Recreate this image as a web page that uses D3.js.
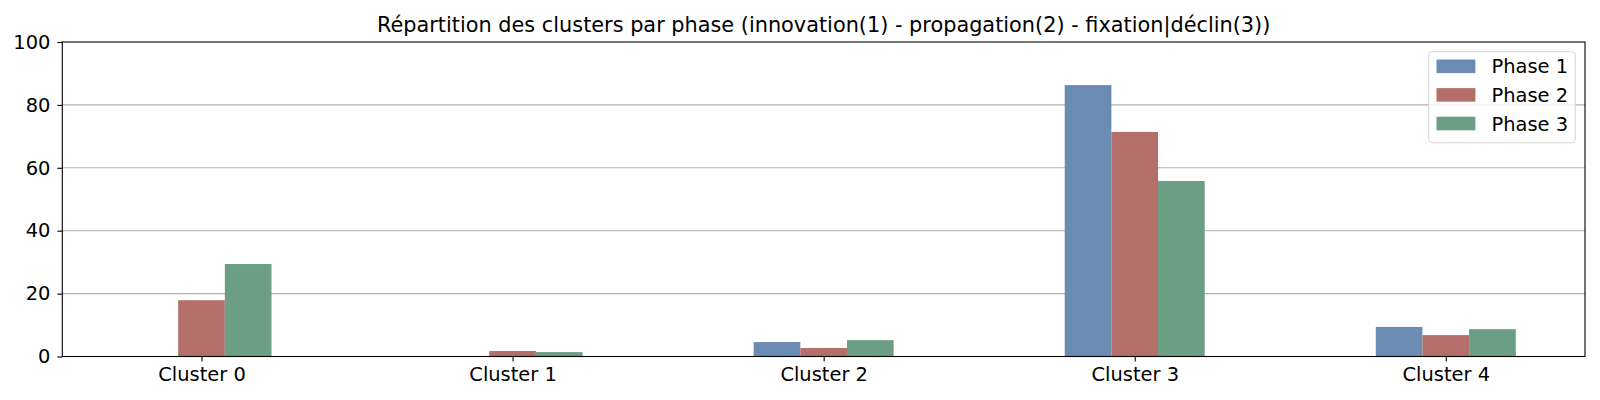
<!DOCTYPE html>
<html>
<head>
<meta charset="utf-8">
<script src="https://cdn.jsdelivr.net/npm/d3@7"></script>
<style>
  html, body { margin: 0; padding: 0; background: #fff; }
  svg { display: block; font-family: "DejaVu Sans", sans-serif; }
</style>
</head>
<body>
<svg id="chart" width="1600" height="400"></svg>
<script>
const categories = ["Cluster 0", "Cluster 1", "Cluster 2", "Cluster 3", "Cluster 4"];
const seriesNames = ["Phase 1", "Phase 2", "Phase 3"];
const phase1 = [0, 0, 4.6, 86.3, 9.4];
const phase2 = [17.9, 1.75, 2.7, 71.4, 6.8];
const phase3 = [29.4, 1.4, 5.2, 55.8, 8.7];
const yTicks = [0, 20, 40, 60, 80, 100];
const titleText = "Répartition des clusters par phase (innovation(1) - propagation(2) - fixation|déclin(3))";

const series = [phase1, phase2, phase3];
const colors = ["#6b8cb2", "#b56f6a", "#6b9e82"];

const svg = d3.select("#chart");
const L = 62.3, R = 1585, T = 42, B = 356.5;
const FS = 19.44;
const barW = 0.15;
const n = categories.length;
const xMin = -barW * 1.5, xMax = (n - 1) + barW * 1.5;
const pad = (xMax - xMin) * 0.05;

const x = d3.scaleLinear().domain([xMin - pad, xMax + pad]).range([L, R]);
const y = d3.scaleLinear().domain([0, 100]).range([B, T]);

// grid
svg.append("g").selectAll("line").data(yTicks.filter(d => d > 0 && d < 100)).join("line")
  .attr("x1", L).attr("x2", R)
  .attr("y1", d => y(d)).attr("y2", d => y(d))
  .attr("stroke", "#b0b0b0").attr("stroke-width", 1.1);

// bars
series.forEach((vals, j) => {
  svg.append("g").selectAll("rect").data(vals).join("rect")
    .attr("x", (d, i) => x(i + (j - 1) * barW - barW / 2))
    .attr("width", (d, i) => x(i + (j - 1) * barW + barW / 2) - x(i + (j - 1) * barW - barW / 2))
    .attr("y", d => y(d))
    .attr("height", d => y(0) - y(d))
    .attr("fill", colors[j]);
});

// axes
const yAxis = d3.axisLeft(y).tickValues(yTicks).tickFormat(d3.format("d")).tickSizeInner(4.9).tickSizeOuter(0).tickPadding(7);
const gy = svg.append("g").attr("transform", `translate(${L},0)`).call(yAxis);
const xAxis = d3.axisBottom(x).tickValues(d3.range(n)).tickFormat(i => categories[i]).tickSizeInner(4.9).tickSizeOuter(0);
const gx = svg.append("g").attr("transform", `translate(0,${B})`).call(xAxis);
gx.selectAll(".tick text").attr("y", 24.5).attr("dy", "0");
[gx, gy].forEach(g => {
  g.select(".domain").remove();
  g.selectAll(".tick line").attr("stroke", "#000").attr("stroke-width", 1.1);
  g.selectAll(".tick text").attr("fill", "#000").style("font-size", FS + "px").style("font-family", "DejaVu Sans");
});

// frame
svg.append("rect").attr("x", L).attr("y", T).attr("width", R - L).attr("height", B - T)
  .attr("fill", "none").attr("stroke", "#000").attr("stroke-width", 1.1);

// title
svg.append("text").attr("x", (L + R) / 2).attr("y", 32.3).attr("text-anchor", "middle")
  .style("font-size", "20.83px").attr("fill", "#000").text(titleText);

// legend
const lg = svg.append("g");
lg.append("rect").attr("x", 1428.7).attr("y", 51.7).attr("width", 146.6).attr("height", 91)
  .attr("rx", 3.9).attr("ry", 3.9)
  .attr("fill", "#fff").attr("fill-opacity", 0.8)
  .attr("stroke", "#d6d6d6").attr("stroke-width", 1.1);
seriesNames.forEach((name, j) => {
  const cy = 66.3 + j * 28.6;
  lg.append("rect").attr("x", 1436.5).attr("y", cy - 6.8).attr("width", 38.9).attr("height", 13.6).attr("fill", colors[j]);
  lg.append("text").attr("x", 1491.5).attr("y", cy + 7).style("font-size", FS + "px").attr("fill", "#000").text(name);
});
</script>
</body>
</html>
